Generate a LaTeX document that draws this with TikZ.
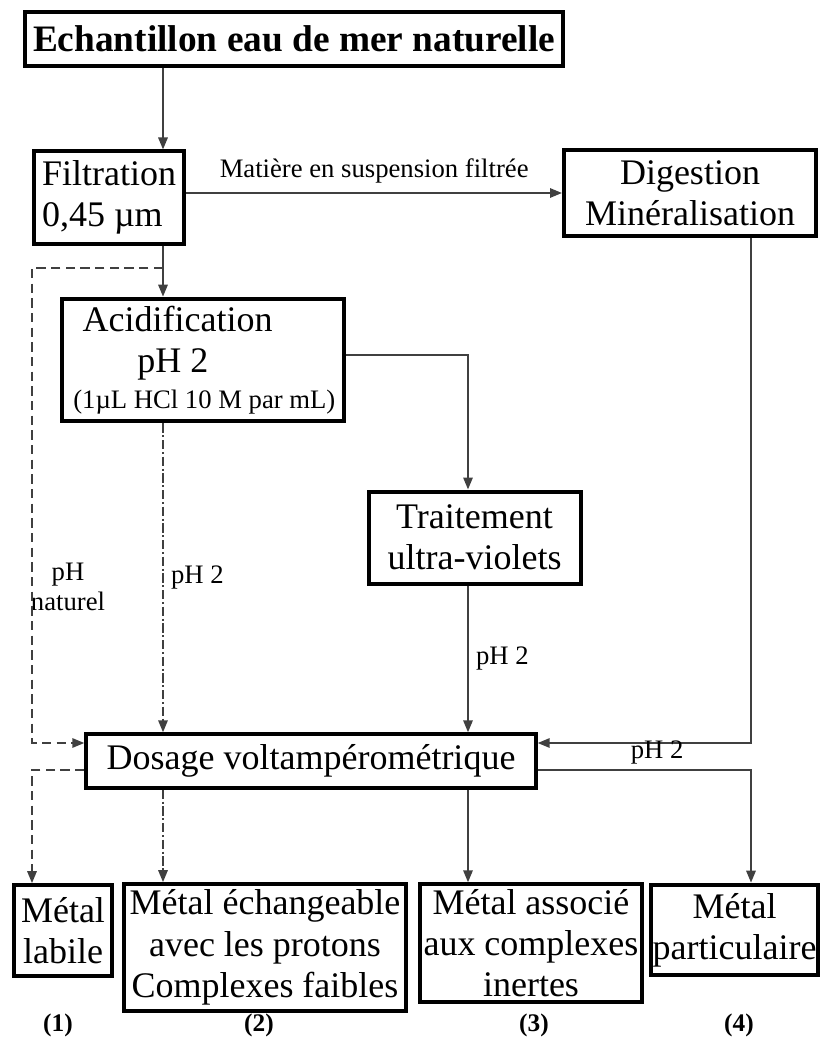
\documentclass[tikz,border=0pt]{standalone}
\usepackage{fontspec}
\setmainfont{Liberation Serif}
\usetikzlibrary{arrows.meta}

\tikzset{
	box/.style = {draw, line width = 3pt, inner sep = 0pt, align = center, font = \fontsize{27}{31}\selectfont},
	link/.style = {draw = black!75, line width = 1.5pt, -{Triangle[length = 9pt, width = 7pt]}},
	dashlink/.style = {link, dash pattern = on 7pt off 4pt},
	dotlink/.style = {link, dash pattern = on 7pt off 2pt on 1.5pt off 2pt},
	small/.style = {font = \fontsize{20}{22.5}\selectfont}
}

\begin{document}
\begin{tikzpicture}[x = 0.75pt, y = -0.75pt]
		\useasboundingbox (0, 0) rectangle (821, 1038);

		\begin{scope}[every node/.append style = {box}]
			\node[minimum width = 404pt, minimum height = 41pt, font = \fontsize{28}{31}\selectfont\bfseries] (0) at (294, 39) {Echantillon eau de mer naturelle};
			\node[minimum width = 113pt, minimum height = 69pt, align = left] (1) at (109, 197.5) {Filtration\\0,45 µm};
			\node[minimum width = 189pt, minimum height = 65pt] (2) at (690, 193) {Digestion\\Minéralisation};
			\node[minimum width = 211pt, minimum height = 92pt, align = left] (3) at (203, 360) {\hspace*{9pt}Acidification\\\hspace*{50pt}pH 2\\[-4pt]{\fontsize{20}{22}\selectfont\hspace*{2pt}(1µL HCl 10 M par mL)}};
			\node[minimum width = 159pt, minimum height = 69pt] (4) at (474.5, 537.5) {Traitement\\ultra-violets};
			\node[minimum width = 337pt, minimum height = 40pt] (5) at (311, 761) {Dosage voltampérométrique};
			\node[minimum width = 74pt, minimum height = 68pt] (6) at (63, 930.5) {Métal\\labile};
			\node[minimum width = 212pt, minimum height = 95pt] (7) at (265, 947.5) {Métal échangeable\\avec les protons\\Complexes faibles};
			\node[minimum width = 167pt, minimum height = 88pt] (8) at (531, 943) {Métal associé\\aux complexes\\inertes};
			\node[minimum width = 125pt, minimum height = 68pt] (9) at (734.5, 930) {Métal\\particulaire};
		\end{scope}

		\begin{scope}[every node/.append style = {font = \fontsize{19}{21}\selectfont\bfseries}]
			\node (n1) at (58, 1025) {(1)};
			\node (n2) at (259, 1025) {(2)};
			\node (n3) at (534, 1025) {(3)};
			\node (n4) at (739, 1025) {(4)};
		\end{scope}
		\node[small, align = center] (ph) at (68, 587) {pH\\naturel};

		\coordinate (a) at (163, 268);
		\coordinate (t) at (468, 355);
		\coordinate (r) at (751, 743);
		\coordinate (l) at (32, 743);
		\coordinate (m) at (32, 770);

		\draw[link] (0.south -| a) -- (1.north -| a);
		\draw[link] (1.east |- 2.west) -- (2.west) node[midway, above = 3pt, small]{Matière en suspension filtrée};
		\draw[link] (1.south -| a) -- (3.north -| a);
		\draw[dashlink] (a) -| (l) -- (5.west |- l);
		\draw[link] (3.east |- t) -- (t) -- (4.north -| t);
		\draw[dotlink] (3.south -| a) -- (5.north -| a) node[midway, right = 2pt, small]{pH 2};
		\draw[link] (4.south -| t) -- (5.north -| t) node[midway, right = 2pt, small]{pH 2};
		\draw[link] (2.south -| r) -- (r) -- (5.east |- r);
		\draw[dashlink] (5.west |- m) -- (m) -- (6.north -| m);
		\draw[dotlink] (5.south -| a) -- (7.north -| a);
		\draw[link] (5.south -| t) -- (8.north -| t);
		\draw[link] (5.east |- m) -| (9.north -| r) node[pos = 0.28, above = 0pt, small]{pH 2};
	\end{tikzpicture}
\end{document}
